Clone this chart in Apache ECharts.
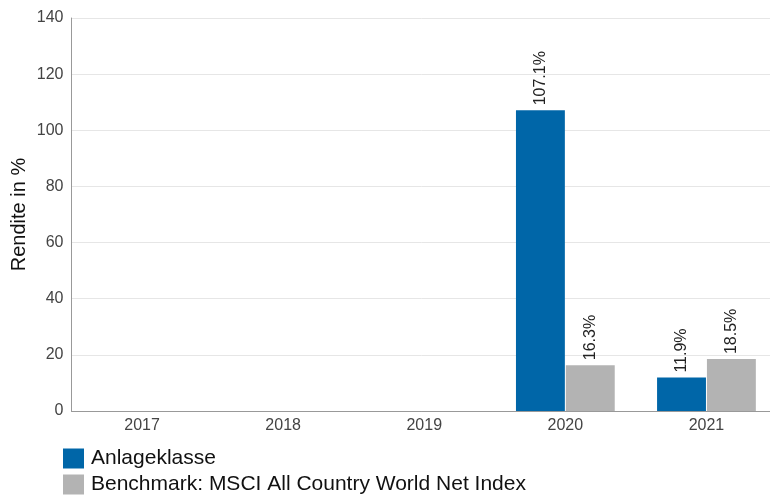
<!DOCTYPE html>
<html>
<head>
<meta charset="utf-8">
<script src="https://cdn.jsdelivr.net/npm/echarts@6/dist/echarts.min.js"></script>
<style>html,body{margin:0;padding:0;background:#fff}#c{width:770px;height:496px}</style>
</head>
<body>
<div id="c"></div>
<script>
var categories = ['2017', '2018', '2019', '2020', '2021'];
var anlageklasse = [null, null, null, 107.1, 11.9];
var benchmark = [null, null, null, 16.3, 18.5];
var seriesNames = ['Anlageklasse', 'Benchmark: MSCI All Country World Net Index'];
var yTicks = [0, 20, 40, 60, 80, 100, 120, 140];

var chart = echarts.init(document.getElementById('c'), null, {renderer: 'canvas'});
var labelCfg = {
  show: true, position: 'top', rotate: 90, align: 'left', verticalAlign: 'middle',
  distance: 5, fontFamily: 'Liberation Sans, Arial, sans-serif', fontSize: 16, color: '#222',
  formatter: function (p) { return p.value.toFixed(1) + '%'; }
};
chart.setOption({
  animation: false,
  textStyle: {fontFamily: 'Liberation Sans, Arial, sans-serif'},
  grid: {left: 71.5, top: 18, width: 705.5, height: 393, outerBoundsMode: 'none', containLabel: false},
  legend: {
    orient: 'vertical', left: 63, top: 448, padding: 0, itemWidth: 21, itemHeight: 20, itemGap: 5,
    icon: 'rect', textStyle: {fontSize: 21, color: '#111', padding: [0, 0, 0, 2]},
    data: seriesNames
  },
  xAxis: {
    type: 'category', data: categories,
    axisLine: {lineStyle: {color: '#999', width: 1}},
    axisTick: {show: false},
    axisLabel: {fontSize: 16, color: '#444', margin: 7}
  },
  yAxis: {
    type: 'value', min: yTicks[0], max: yTicks[yTicks.length - 1], interval: 20,
    name: 'Rendite in %', nameLocation: 'middle', nameGap: 42, nameMoveOverlap: false,
    nameTextStyle: {fontSize: 20, color: '#111'},
    axisLine: {show: true, lineStyle: {color: '#999'}},
    axisTick: {show: false},
    axisLabel: {fontSize: 16, color: '#444', margin: 8},
    splitLine: {lineStyle: {color: '#e6e6e6'}}
  },
  series: [
    {name: seriesNames[0], type: 'bar', data: anlageklasse, barGap: '2%', barCategoryGap: '30%',
     itemStyle: {color: '#0066a8'}, label: labelCfg},
    {name: seriesNames[1], type: 'bar', data: benchmark,
     itemStyle: {color: '#b3b3b3'}, label: labelCfg}
  ]
});
</script>
</body>
</html>
